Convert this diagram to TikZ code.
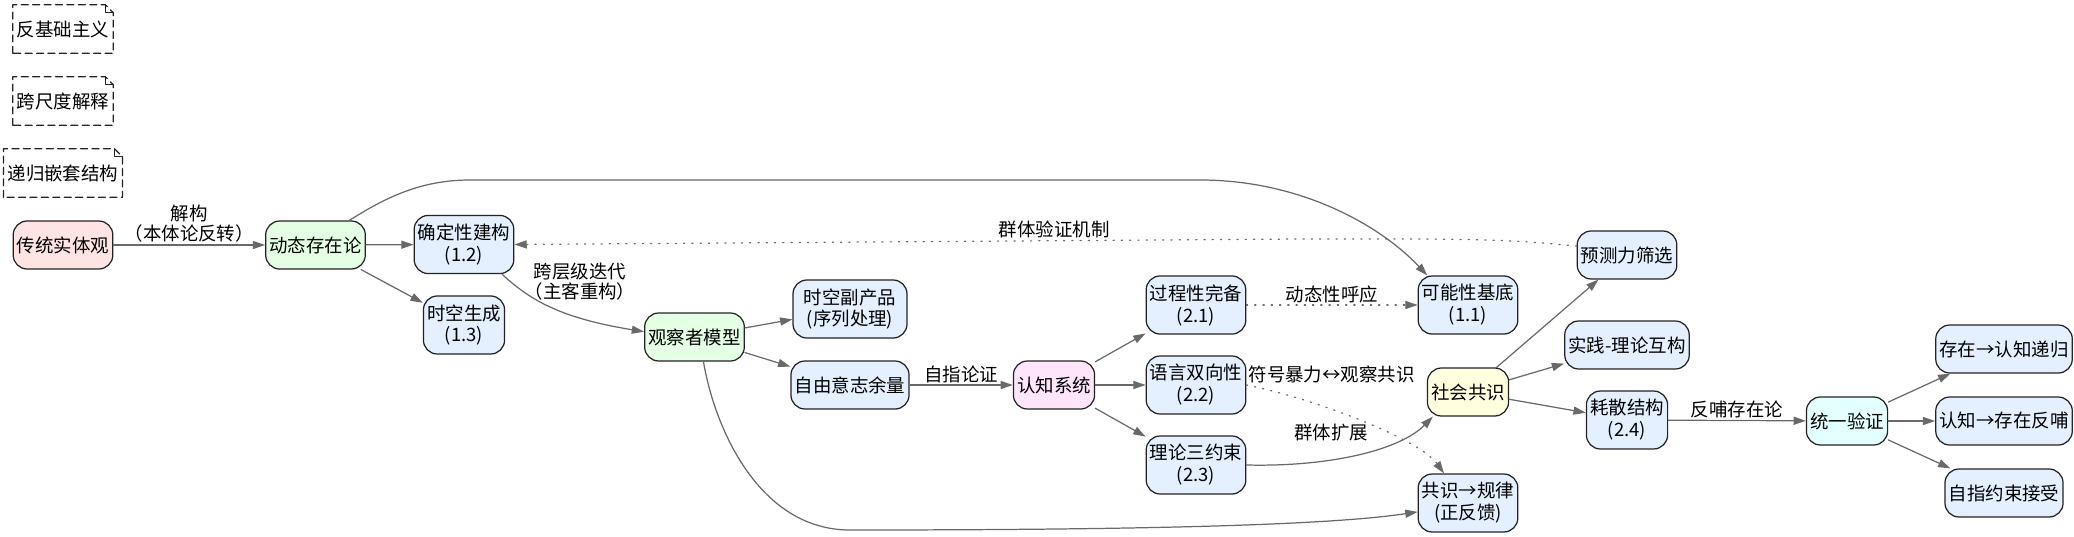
\documentclass[tikz,border=0pt]{standalone}
\usepackage{fontspec}
\setmainfont{Noto Sans CJK SC}
\usetikzlibrary{arrows.meta,positioning}

\definecolor{edgegray}{RGB}{105,105,105}
\definecolor{boxline}{RGB}{35,35,35}
\definecolor{rootred}{RGB}{255,228,228}
\definecolor{coregreen}{RGB}{228,255,228}
\definecolor{partblue}{RGB}{228,240,255}
\definecolor{cogpink}{RGB}{255,228,250}
\definecolor{socyellow}{RGB}{255,255,224}
\definecolor{unicyan}{RGB}{228,255,255}

\begin{document}
\begin{tikzpicture}[
    >={Triangle[length=7pt,width=4.6pt]},
    font=\fontsize{10.5pt}{12.5pt}\selectfont,
    line cap=round,
    line join=round,
    box/.style={draw=boxline, line width=0.7pt, rounded corners=0.28cm,
        align=center, inner xsep=2.1pt, inner ysep=4.8pt, minimum height=0.96cm},
    root/.style={box, fill=rootred},
    core/.style={box, fill=coregreen},
    part/.style={box, fill=partblue},
    cogn/.style={box, fill=cogpink},
    socl/.style={box, fill=socyellow},
    unifbox/.style={box, fill=unicyan},
    note/.style={fill=white, inner xsep=2.1pt, minimum height=0.96cm},
    notebox/.style={draw=boxline, line width=0.7pt, dash pattern=on 4pt off 2.5pt},
    link/.style={->, draw=edgegray, line width=0.7pt},
    weak/.style={link, loosely dotted},
    lbl/.style={font=\fontsize{10.5pt}{11.5pt}\selectfont, align=center, inner sep=1pt}
]

\useasboundingbox (0,0) rectangle (41.48,-10.74);

% notes
\node[note] (antifound) at (1.26,-0.58) {反基础主义};
\node[note] (crossscale) at (1.26,-2.02) {跨尺度解释};
\node[note] (recnest) at (1.26,-3.46) {递归嵌套结构};

\foreach \n in {antifound,crossscale,recnest}{
    \draw[notebox] (\n.south west) -- (\n.north west)
        -- ([xshift=-4.5pt]\n.north east) -- ([yshift=-4.5pt]\n.north east)
        -- (\n.south east) -- cycle;
    \draw[draw=boxline, line width=0.5pt] ([xshift=-4.5pt]\n.north east)
        -- ([xshift=-4.5pt,yshift=-4.5pt]\n.north east) -- ([yshift=-4.5pt]\n.north east);
}

% ontology
\node[root] (trad) at (1.26,-4.90) {传统实体观};
\node[core] (dyn) at (6.31,-4.90) {动态存在论};
\node[part] (det) at (9.28,-4.89) {确定性建构\\(1.2)};
\node[part] (stgen) at (9.28,-6.50) {时空生成\\(1.3)};

% observer
\node[core] (obs) at (13.89,-6.74) {观察者模型};
\node[part, minimum width=2.28cm] (stby) at (17.00,-6.18) {时空副产品\\(序列处理)};
\node[part] (freew) at (17.00,-7.70) {自由意志余量};

% cognition
\node[cogn] (cog) at (21.08,-7.70) {认知系统};
\node[part] (proc) at (23.92,-6.10) {过程性完备\\(2.1)};
\node[part] (lang) at (23.92,-7.70) {语言双向性\\(2.2)};
\node[part] (three) at (23.92,-9.30) {理论三约束\\(2.3)};

% consensus
\node[part] (poss) at (29.36,-6.10) {可能性基底\\(1.1)};
\node[socl] (soc) at (29.36,-7.84) {社会共识};
\node[part] (law) at (29.36,-10.06) {共识→规律\\(正反馈)};
\node[part] (pred) at (32.54,-5.10) {预测力筛选};
\node[part] (prac) at (32.54,-6.90) {实践-理论互构};
\node[part] (diss) at (32.54,-8.40) {耗散结构\\(2.4)};

% verification
\node[unifbox] (unif) at (36.94,-8.42) {统一验证};
\node[part] (rec1) at (40.08,-6.98) {存在→认知递归};
\node[part] (rec2) at (40.08,-8.42) {认知→存在反哺};
\node[part] (selfc) at (40.08,-9.86) {自指约束接受};

% edges
\draw[link] (trad) -- node[lbl, above] (l-decon) {解构\\（本体论反转）} (dyn);
\draw[link] (dyn) -- (det);
\draw[link] (dyn) -- (stgen);
\draw[link] (dyn.36) .. controls (7.70,-3.96) and (8.40,-3.60) .. (9.40,-3.60)
    -- (24.00,-3.60) .. controls (26.00,-3.60) and (27.60,-4.50) .. (poss.144);

\draw[link] (det.322) .. controls (10.60,-6.00) and (11.20,-6.36) .. (obs.174);
\node[lbl] (l-iter) at (11.60,-5.64) {跨层级迭代\\（主客重构）};

\draw[link] (obs) -- (stby);
\draw[link] (obs) -- (freew);
\draw[link] (obs.290) .. controls (14.30,-8.60) and (15.20,-10.60) .. (17.00,-10.60)
    .. controls (23.00,-10.60) and (26.60,-10.50) .. (law.190);

\draw[link] (freew) -- node[lbl, above] (l-self) {自指论证} (cog);
\draw[link] (cog) -- (proc);
\draw[link] (cog) -- (lang);
\draw[link] (cog) -- (three);

\draw[weak] (proc) -- node[lbl, above] (l-dyn) {动态性呼应} (poss);
\draw[weak] (lang.east) .. controls (26.40,-8.00) and (28.40,-8.80) .. (law.129);
\node[lbl, anchor=south west] (l-sym) at (lang.east) {符号暴力↔观察共识};

\draw[link] (three.east) .. controls (26.60,-9.34) and (28.00,-9.00) .. (soc.215);
\node[lbl] (l-group) at (26.62,-8.66) {群体扩展};

\draw[link] (soc) -- (pred);
\draw[link] (soc) -- (prac);
\draw[link] (soc) -- (diss);

\draw[weak] (pred.170) .. controls (30.00,-4.76) and (29.00,-4.78) .. (26.00,-4.78)
    -- node[lbl, above, pos=0.313] (l-verif) {群体验证机制} (det.east);

\draw[link] (diss) -- node[lbl, above] (l-feed) {反哺存在论} (unif);
\draw[link] (unif) -- (rec1);
\draw[link] (unif) -- (rec2);
\draw[link] (unif) -- (selfc);

\end{tikzpicture}
\end{document}
